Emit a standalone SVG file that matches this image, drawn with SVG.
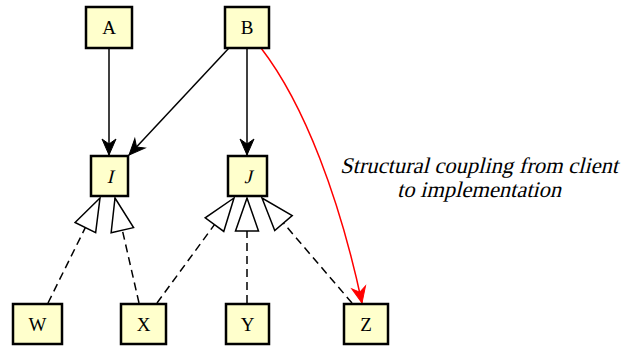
<svg xmlns="http://www.w3.org/2000/svg" width="633" height="346" viewBox="0 0 633 346">
<style>
.box{fill:#ffffcc;stroke:#000;stroke-width:2.5}
.lbl{font-family:'Liberation Serif',serif;font-size:19px;text-anchor:middle;fill:#000}
.e{fill:none;stroke:#000;stroke-width:1.5}
.d{fill:none;stroke:#000;stroke-width:1.5;stroke-dasharray:8,5}
.note{font-family:'Liberation Serif',serif;font-size:22.5px;text-anchor:middle;fill:#000}
</style>
<defs>
<marker id="vee" markerUnits="userSpaceOnUse" viewBox="-18 -9 20 18" refX="0" refY="0" markerWidth="20" markerHeight="18" orient="auto" overflow="visible">
<path d="M0,0 L-16,-7 L-11,0 L-16,7 Z" fill="#000" stroke="#000" stroke-width="1"/>
</marker>
<marker id="veeR" markerUnits="userSpaceOnUse" viewBox="-18 -9 20 18" refX="0" refY="0" markerWidth="20" markerHeight="18" orient="auto" overflow="visible">
<path d="M0,0 L-16,-7 L-11,0 L-16,7 Z" fill="#ff0000" stroke="#ff0000" stroke-width="1"/>
</marker>
<marker id="tri" markerUnits="userSpaceOnUse" viewBox="-35 -13 37 26" refX="0" refY="0" markerWidth="37" markerHeight="26" orient="auto" overflow="visible">
<path d="M0,0 L-33,-11.5 L-33,11.5 Z" fill="#fff" stroke="#000" stroke-width="1.5"/>
</marker>
</defs>
<g id="connectors">
<path class="e" d="M109,48 L109,155" marker-end="url(#vee)"/>
<path class="e" d="M229,48 L129,155" marker-end="url(#vee)"/>
<path class="e" d="M247,48 L247,155" marker-end="url(#vee)"/>
<path d="M261,48 C305,105 340,200 362,303" fill="none" stroke="#ff0000" stroke-width="1.5" marker-end="url(#veeR)"/>
<path class="d" d="M48,303 L100,198" marker-end="url(#tri)"/>
<path class="d" d="M139,303 L115,198" marker-end="url(#tri)"/>
<path class="d" d="M157,303 L234,198" marker-end="url(#tri)"/>
<path class="d" d="M247,303 L247,198" marker-end="url(#tri)"/>
<path class="d" d="M352,303 L262,198" marker-end="url(#tri)"/>
</g>
<g id="A"><rect class="box" x="86" y="7" width="46" height="41"/><text class="lbl" x="109" y="34">A</text></g>
<g id="B"><rect class="box" x="225" y="7" width="44" height="41"/><text class="lbl" x="247" y="34">B</text></g>
<g id="I"><rect class="box" x="91" y="156" width="37" height="40"/><text class="lbl" transform="translate(110,183) skewX(-14)">I</text></g>
<g id="J"><rect class="box" x="228" y="156" width="39" height="40"/><text class="lbl" transform="translate(248,183) skewX(-14)">J</text></g>
<g id="W"><rect class="box" x="13" y="304" width="49" height="40"/><text class="lbl" x="37.5" y="331">W</text></g>
<g id="X"><rect class="box" x="121" y="304" width="45" height="40"/><text class="lbl" x="143.5" y="331">X</text></g>
<g id="Y"><rect class="box" x="226" y="304" width="43" height="40"/><text class="lbl" x="247.5" y="331">Y</text></g>
<g id="Z"><rect class="box" x="344" y="304" width="44" height="40"/><text class="lbl" x="366" y="331">Z</text></g>
<g id="note">
<text class="note" transform="translate(479,173) skewX(-14)">Structural coupling from client</text>
<text class="note" transform="translate(479,197) skewX(-14)">to implementation</text>
</g>
</svg>
